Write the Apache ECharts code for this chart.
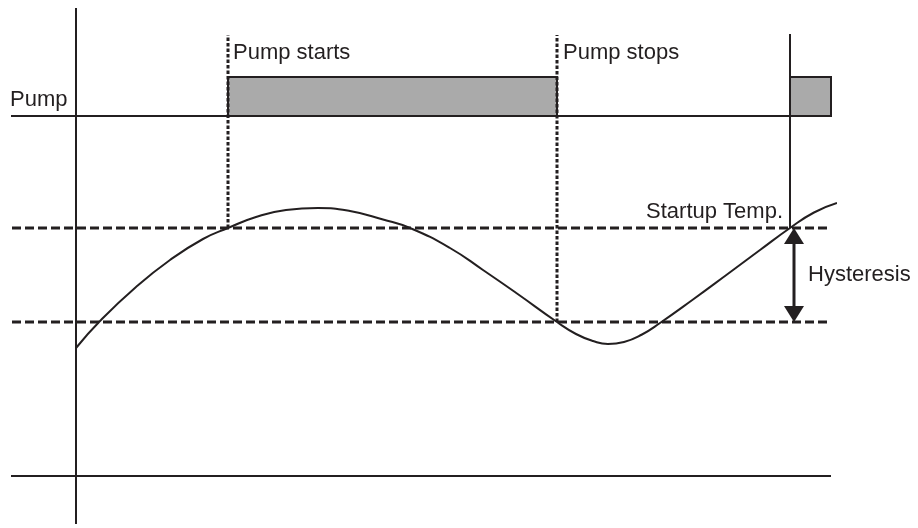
<!DOCTYPE html>
<html>
<head>
<meta charset="utf-8">
<script src="https://cdn.jsdelivr.net/npm/echarts@6/dist/echarts.min.js"></script>
<style>
html,body{margin:0;padding:0;background:#fff;}
#main{width:918px;height:528px;}
</style>
</head>
<body>
<div id="main"></div>
<script>
// ---- data (x: time units, y: temperature units) ----
const curveX = [0, 24, 60, 94, 127, 152, 180, 210, 242, 274, 307, 334, 374, 407, 441, 481, 500, 517, 532, 548, 566, 584, 617, 651, 684, 714, 738, 761];
const curveY = [128, 155, 189, 216, 237, 248, 259, 266, 268, 265, 256.5, 248, 228, 206, 182.5, 154, 142, 135, 132, 134, 141.5, 153, 176.5, 201.5, 226, 248, 263.5, 273];

const startupTemp = 248;
const lowerTemp = 154;
const pumpOffLevel = 360;
const pumpOnLevel = 399;
const pumpOnIntervals = [[152, 481], [714, 755]];
const pumpStartX = 152;
const pumpStopX = 481;
const restartX = 714;
const lineStartX = -65;
const lineEndX = 755;
const axisBottom = -48;
const axisTop = 468;
const markerTop = 441;
const arrowX = 718;

const labelTexts = ['Pump', 'Pump starts', 'Pump stops', 'Startup Temp.', 'Hysteresis'];
const labelX = [-66, 157, 487, 707, 732];
const labelY = [376, 423, 423, 264, 201];
const labelAlign = ['left', 'left', 'left', 'right', 'left'];

// ---- segments built from values ----
const solidSegments = [
  [0, axisBottom, 0, axisTop],
  [lineStartX, pumpOffLevel, lineEndX, pumpOffLevel],
  [lineStartX, 0, lineEndX, 0],
  [restartX, startupTemp, restartX, markerTop + 1]
];
const dashedSegments = [
  [lineStartX + 1, startupTemp, lineEndX - 1, startupTemp],
  [lineStartX + 1, lowerTemp, lineEndX - 1, lowerTemp]
];
const dottedSegments = [
  [pumpStartX, startupTemp, pumpStartX, markerTop],
  [pumpStopX, lowerTemp, pumpStopX, markerTop]
];

const INK = '#231f20';
const FONT = '"Liberation Sans", Arial, sans-serif';

function segmentSeries(data, style, z) {
  return {
    type: 'custom',
    data: data,
    encode: { x: [0, 2], y: [1, 3] },
    z: z,
    silent: true,
    renderItem: function (params, api) {
      const p1 = api.coord([api.value(0), api.value(1)]);
      const p2 = api.coord([api.value(2), api.value(3)]);
      return {
        type: 'line',
        shape: { x1: p1[0], y1: p1[1], x2: p2[0], y2: p2[1] },
        style: Object.assign({ fill: null }, style)
      };
    }
  };
}

const chart = echarts.init(document.getElementById('main'), null, { renderer: 'canvas' });

const option = {
  animation: false,
  backgroundColor: '#ffffff',
  grid: { left: 11, right: 82, top: 8, bottom: 4 },
  xAxis: { type: 'value', min: -65, max: 760, show: false },
  yAxis: { type: 'value', min: -48, max: 468, show: false },
  series: [
    {
      type: 'custom',
      data: pumpOnIntervals.map(function (d) { return [d[0], pumpOffLevel, d[1], pumpOnLevel]; }),
      encode: { x: [0, 2], y: [1, 3] },
      z: 2,
      silent: true,
      renderItem: function (params, api) {
        const p1 = api.coord([api.value(0), api.value(3)]);
        const p2 = api.coord([api.value(2), api.value(1)]);
        return {
          type: 'rect',
          shape: { x: p1[0], y: p1[1], width: p2[0] - p1[0], height: p2[1] - p1[1] },
          style: { fill: '#aaaaaa', stroke: INK, lineWidth: 2 }
        };
      }
    },
    segmentSeries(solidSegments, { stroke: INK, lineWidth: 2 }, 3),
    segmentSeries(dashedSegments, { stroke: INK, lineWidth: 3, lineDash: [9, 4] }, 3),
    segmentSeries(dottedSegments, { stroke: INK, lineWidth: 3, lineDash: [3.5, 2] }, 4),
    {
      type: 'line',
      data: curveX.map(function (x, i) { return [x, curveY[i]]; }),
      smooth: true,
      showSymbol: false,
      silent: true,
      z: 5,
      lineStyle: { color: INK, width: 2 }
    },
    {
      type: 'custom',
      data: [[arrowX, startupTemp, lowerTemp]],
      encode: { x: 0, y: [1, 2] },
      z: 6,
      silent: true,
      renderItem: function (params, api) {
        const top = api.coord([api.value(0), api.value(1)]);
        const bot = api.coord([api.value(0), api.value(2)]);
        const hl = 16, hw = 10;
        const x = top[0];
        return {
          type: 'group',
          children: [
            { type: 'line', shape: { x1: x, y1: top[1] + hl - 2, x2: x, y2: bot[1] - hl + 2 },
              style: { stroke: INK, lineWidth: 3 } },
            { type: 'polygon', shape: { points: [[x, top[1]], [x - hw, top[1] + hl], [x + hw, top[1] + hl]] },
              style: { fill: INK } },
            { type: 'polygon', shape: { points: [[x, bot[1]], [x - hw, bot[1] - hl], [x + hw, bot[1] - hl]] },
              style: { fill: INK } }
          ]
        };
      }
    }
  ]
};

chart.setOption(option);

const graphics = labelTexts.map(function (t, i) {
  const p = chart.convertToPixel({ gridIndex: 0 }, [labelX[i], labelY[i]]);
  return {
    type: 'text',
    x: p[0],
    y: p[1],
    z: 10,
    silent: true,
    style: {
      text: t,
      fill: INK,
      font: '22px ' + FONT,
      align: labelAlign[i],
      verticalAlign: 'middle'
    }
  };
});
chart.setOption({ graphic: graphics });
</script>
</body>
</html>
